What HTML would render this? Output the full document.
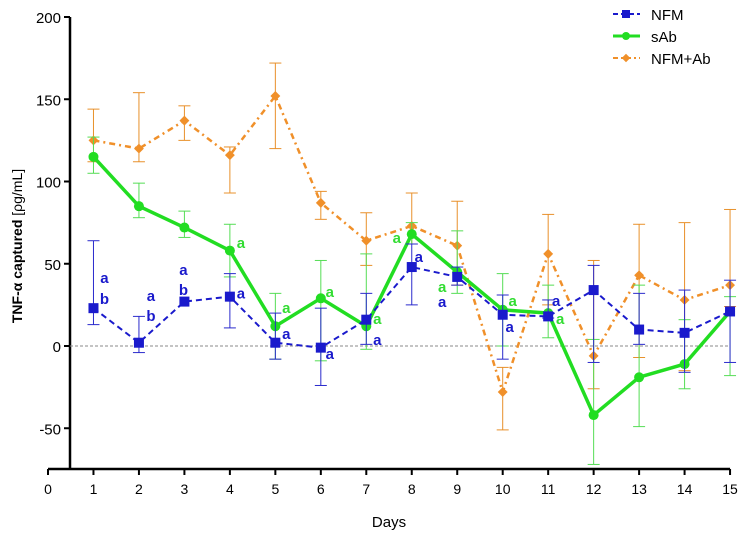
<!DOCTYPE html>
<html><head><meta charset="utf-8"><style>
body{margin:0;background:#fff}
svg{font-family:"Liberation Sans",sans-serif}
</style></head><body>
<svg id="chart" width="742" height="538">
<g id="axes"></g><g id="series"></g>
<g>
 <g><line x1="613" y1="14" x2="640" y2="14" stroke="#1a1acc" stroke-width="2" stroke-dasharray="5,3"/><rect x="622" y="10" width="8" height="8" fill="#1a1acc"/><text x="651" y="20" font-size="15">NFM</text></g>
 <g><line x1="613" y1="36" x2="640" y2="36" stroke="#22dd22" stroke-width="3"/><circle cx="626" cy="36" r="4" fill="#22dd22"/><text x="651" y="42" font-size="15">sAb</text></g>
 <g><line x1="613" y1="58" x2="640" y2="58" stroke="#f0902a" stroke-width="2" stroke-dasharray="5,3,2,3"/><rect x="623" y="55" width="6" height="6" fill="#f0902a" transform="rotate(45 626 58)"/><text x="651" y="64" font-size="15">NFM+Ab</text></g>
</g>
<text transform="translate(22 246) rotate(-90)" text-anchor="middle" font-size="14"><tspan font-weight="bold">TNF-α captured</tspan> [ρg/mL]</text>
<text x="389" y="527" text-anchor="middle" font-size="15">Days</text>
</svg>
<script>
const days=[1,2,3,4,5,6,7,8,9,10,11,12,13,14,15];
const nfm=[23,2,27,30,2,-1,16,48,42,19,18,34,10,8,21];
const nfmLo=[13,-4,27,11,-8,-24,1,25,37,-8,17,-10,1,-16,-10];
const nfmHi=[64,18,27,44,20,23,32,62,48,31,28,49,32,34,40];
const sab=[115,85,72,58,12,29,12,68,45,22,20,-42,-19,-11,21];
const sabLo=[105,78,66,42,-8,-9,-2,62,32,0,5,-72,-49,-26,-18];
const sabHi=[127,99,82,74,32,52,56,75,70,44,37,4,37,16,30];
const nfmab=[125,120,137,116,152,87,64,73,61,-28,56,-6,43,28,37];
const nfmabLo=[112,112,125,93,120,77,49,62,37,-51,25,-26,-7,-15,24];
const nfmabHi=[144,154,146,121,172,94,81,93,88,-13,80,52,74,75,83];
const xTicks=[0,1,2,3,4,5,6,7,8,9,10,11,12,13,14,15];
const yTicks=[-50,0,50,100,150,200];
const annDays=[1,1,2,2,3,3,4,5,6,7,8,9,10,11,4,5,6,7,8,9,10,11];
const annVals=[41.3,28.6,30.4,18.2,46.2,34,32,7.3,-4.9,3.6,54,26.7,11.6,27.4,62.6,23,32.8,16.4,65.6,35.9,27.4,16.4];
const annText=['a','b','a','b','a','b','a','a','a','a','a','a','a','a','a','a','a','a','a','a','a','a'];
const annColor=['b','b','b','b','b','b','b','b','b','b','b','b','b','b','g','g','g','g','g','g','g','g'];
const annDx=[11,11,12,12,-1,-1,11,11,9,11,7,-15,7,8,11,11,9,11,-15,-15,10,12];
const X=d=>48+d*45.47;
const Y=v=>346-v*1.645;
const NS="http://www.w3.org/2000/svg";
function mk(parent,tag,attrs){const e=document.createElementNS(NS,tag);for(const k in attrs)e.setAttribute(k,attrs[k]);parent.appendChild(e);return e;}
const ax=document.getElementById('axes');
let yl=mk(ax,'line',{x1:70,y1:Y(200),x2:70,y2:Y(-75),stroke:'#000','stroke-width':2.5});


let xl=mk(ax,'line',{x1:X(0),y1:469,x2:X(15),y2:469,stroke:'#000','stroke-width':2.5});


let zl=mk(ax,'line',{x1:70,y1:Y(0),x2:X(15),y2:Y(0),stroke:'#888','stroke-width':1,'stroke-dasharray':'3,2'});


yTicks.forEach(v=>{mk(ax,'line',{x1:64,y1:Y(v),x2:70,y2:Y(v),stroke:'#000','stroke-width':2});
const t=mk(ax,'text',{x:61,y:Y(v)+6,'text-anchor':'end','font-size':15});t.textContent=v;

});
xTicks.forEach(d=>{mk(ax,'line',{x1:X(d),y1:469,x2:X(d),y2:475,stroke:'#000','stroke-width':2});
const t=mk(ax,'text',{x:X(d),y:494,'text-anchor':'middle','font-size':14});t.textContent=d;

});
const sg=document.getElementById('series');
function series(name,vals,lo,hi,color,barColor,w,dash,marker){
 const g=mk(sg,'g',{});
 
 
 days.forEach((d,i)=>{if(hi[i]!==lo[i]){const x=X(d);
  mk(g,'line',{x1:x,y1:Y(lo[i]),x2:x,y2:Y(hi[i]),stroke:barColor,'stroke-width':1});
  mk(g,'line',{x1:x-6,y1:Y(lo[i]),x2:x+6,y2:Y(lo[i]),stroke:barColor,'stroke-width':1});
  mk(g,'line',{x1:x-6,y1:Y(hi[i]),x2:x+6,y2:Y(hi[i]),stroke:barColor,'stroke-width':1});}});
 const p=mk(g,'polyline',{points:days.map((d,i)=>X(d)+','+Y(vals[i])).join(' '),fill:'none',stroke:color,'stroke-width':w,'stroke-dasharray':dash});
 
 
 days.forEach((d,i)=>{const x=X(d),y=Y(vals[i]);let m;
  if(marker==='sq')m=mk(g,'rect',{x:x-5,y:y-5,width:10,height:10,fill:color});
  else if(marker==='c')m=mk(g,'circle',{cx:x,cy:y,r:5,fill:color});
  else m=mk(g,'rect',{x:x-3.5,y:y-3.5,width:7,height:7,fill:color,transform:`rotate(45 ${x} ${y})`});
  
  });
}
series('nfm-ab',nfmab,nfmabLo,nfmabHi,'#f0902a','#e8902a',2.5,'6,4,2,4','d');
series('sab',sab,sabLo,sabHi,'#22dd22','#55dd55',3.5,'','c');
series('nfm',nfm,nfmLo,nfmHi,'#1a1acc','#2a2acc',2,'6,4','sq');
annDays.forEach((d,i)=>{
 const t=mk(sg,'text',{x:X(d)+annDx[i],y:Y(annVals[i])+5,'text-anchor':'middle','font-size':15,'font-weight':'bold',fill:annColor[i]==='g'?'#33dd33':'#1a1acc'});
 t.textContent=annText[i];
 
 });
</script>
</body></html>
